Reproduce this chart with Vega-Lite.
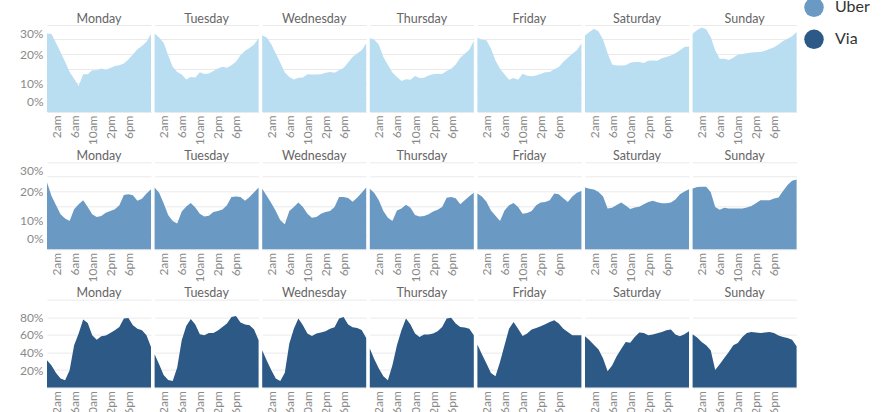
{
  "$schema": "https://vega.github.io/schema/vega-lite/v6.json",
  "padding": {"left": 19, "top": -35, "right": 0, "bottom": 0},
  "datasets": {
    "lyft": [
      {"d":"Monday","h":0,"v":27.1},{"d":"Monday","h":1,"v":26.9},{"d":"Monday","h":2,"v":23.8},{"d":"Monday","h":3,"v":20.6},{"d":"Monday","h":4,"v":17.3},{"d":"Monday","h":5,"v":13.8},{"d":"Monday","h":6,"v":11.5},{"d":"Monday","h":7,"v":9.0},{"d":"Monday","h":8,"v":13.0},{"d":"Monday","h":9,"v":13.0},{"d":"Monday","h":10,"v":14.4},{"d":"Monday","h":11,"v":14.4},{"d":"Monday","h":12,"v":15.0},{"d":"Monday","h":13,"v":14.6},{"d":"Monday","h":14,"v":15.2},{"d":"Monday","h":15,"v":15.9},{"d":"Monday","h":16,"v":16.1},{"d":"Monday","h":17,"v":16.7},{"d":"Monday","h":18,"v":18.1},{"d":"Monday","h":19,"v":19.8},{"d":"Monday","h":20,"v":21.6},{"d":"Monday","h":21,"v":22.8},{"d":"Monday","h":22,"v":24.2},{"d":"Monday","h":23,"v":26.9},
      {"d":"Tuesday","h":0,"v":27.1},{"d":"Tuesday","h":1,"v":25.7},{"d":"Tuesday","h":2,"v":23.9},{"d":"Tuesday","h":3,"v":19.6},{"d":"Tuesday","h":4,"v":15.6},{"d":"Tuesday","h":5,"v":13.8},{"d":"Tuesday","h":6,"v":12.9},{"d":"Tuesday","h":7,"v":11.2},{"d":"Tuesday","h":8,"v":12.1},{"d":"Tuesday","h":9,"v":11.9},{"d":"Tuesday","h":10,"v":13.7},{"d":"Tuesday","h":11,"v":13.1},{"d":"Tuesday","h":12,"v":13.3},{"d":"Tuesday","h":13,"v":14.1},{"d":"Tuesday","h":14,"v":15.0},{"d":"Tuesday","h":15,"v":15.6},{"d":"Tuesday","h":16,"v":15.3},{"d":"Tuesday","h":17,"v":16.1},{"d":"Tuesday","h":18,"v":17.3},{"d":"Tuesday","h":19,"v":19.6},{"d":"Tuesday","h":20,"v":21.1},{"d":"Tuesday","h":21,"v":22.1},{"d":"Tuesday","h":22,"v":23.3},{"d":"Tuesday","h":23,"v":25.4},
      {"d":"Wednesday","h":0,"v":26.5},{"d":"Wednesday","h":1,"v":25.7},{"d":"Wednesday","h":2,"v":23.4},{"d":"Wednesday","h":3,"v":20.2},{"d":"Wednesday","h":4,"v":17.0},{"d":"Wednesday","h":5,"v":13.6},{"d":"Wednesday","h":6,"v":12.1},{"d":"Wednesday","h":7,"v":11.2},{"d":"Wednesday","h":8,"v":11.8},{"d":"Wednesday","h":9,"v":11.9},{"d":"Wednesday","h":10,"v":13.0},{"d":"Wednesday","h":11,"v":12.9},{"d":"Wednesday","h":12,"v":12.9},{"d":"Wednesday","h":13,"v":13.0},{"d":"Wednesday","h":14,"v":13.5},{"d":"Wednesday","h":15,"v":13.8},{"d":"Wednesday","h":16,"v":13.5},{"d":"Wednesday","h":17,"v":14.4},{"d":"Wednesday","h":18,"v":15.2},{"d":"Wednesday","h":19,"v":17.1},{"d":"Wednesday","h":20,"v":19.0},{"d":"Wednesday","h":21,"v":20.2},{"d":"Wednesday","h":22,"v":21.3},{"d":"Wednesday","h":23,"v":23.6},
      {"d":"Thursday","h":0,"v":25.5},{"d":"Thursday","h":1,"v":24.9},{"d":"Thursday","h":2,"v":23.2},{"d":"Thursday","h":3,"v":19.0},{"d":"Thursday","h":4,"v":16.2},{"d":"Thursday","h":5,"v":13.6},{"d":"Thursday","h":6,"v":12.1},{"d":"Thursday","h":7,"v":10.7},{"d":"Thursday","h":8,"v":11.3},{"d":"Thursday","h":9,"v":11.1},{"d":"Thursday","h":10,"v":12.4},{"d":"Thursday","h":11,"v":11.7},{"d":"Thursday","h":12,"v":11.8},{"d":"Thursday","h":13,"v":12.6},{"d":"Thursday","h":14,"v":13.0},{"d":"Thursday","h":15,"v":13.2},{"d":"Thursday","h":16,"v":13.1},{"d":"Thursday","h":17,"v":14.1},{"d":"Thursday","h":18,"v":14.9},{"d":"Thursday","h":19,"v":16.4},{"d":"Thursday","h":20,"v":18.7},{"d":"Thursday","h":21,"v":20.1},{"d":"Thursday","h":22,"v":21.5},{"d":"Thursday","h":23,"v":24.5},
      {"d":"Friday","h":0,"v":25.6},{"d":"Friday","h":1,"v":24.9},{"d":"Friday","h":2,"v":24.7},{"d":"Friday","h":3,"v":21.8},{"d":"Friday","h":4,"v":17.8},{"d":"Friday","h":5,"v":14.9},{"d":"Friday","h":6,"v":13.0},{"d":"Friday","h":7,"v":11.1},{"d":"Friday","h":8,"v":11.7},{"d":"Friday","h":9,"v":11.1},{"d":"Friday","h":10,"v":13.2},{"d":"Friday","h":11,"v":12.5},{"d":"Friday","h":12,"v":12.3},{"d":"Friday","h":13,"v":12.6},{"d":"Friday","h":14,"v":13.1},{"d":"Friday","h":15,"v":13.7},{"d":"Friday","h":16,"v":13.8},{"d":"Friday","h":17,"v":14.7},{"d":"Friday","h":18,"v":15.5},{"d":"Friday","h":19,"v":17.2},{"d":"Friday","h":20,"v":18.7},{"d":"Friday","h":21,"v":20.1},{"d":"Friday","h":22,"v":21.3},{"d":"Friday","h":23,"v":23.6},
      {"d":"Saturday","h":0,"v":26.4},{"d":"Saturday","h":1,"v":27.6},{"d":"Saturday","h":2,"v":28.7},{"d":"Saturday","h":3,"v":27.8},{"d":"Saturday","h":4,"v":24.9},{"d":"Saturday","h":5,"v":20.3},{"d":"Saturday","h":6,"v":16.4},{"d":"Saturday","h":7,"v":16.0},{"d":"Saturday","h":8,"v":16.0},{"d":"Saturday","h":9,"v":16.1},{"d":"Saturday","h":10,"v":17.0},{"d":"Saturday","h":11,"v":17.2},{"d":"Saturday","h":12,"v":17.2},{"d":"Saturday","h":13,"v":16.9},{"d":"Saturday","h":14,"v":17.7},{"d":"Saturday","h":15,"v":17.8},{"d":"Saturday","h":16,"v":17.7},{"d":"Saturday","h":17,"v":18.5},{"d":"Saturday","h":18,"v":19.0},{"d":"Saturday","h":19,"v":19.5},{"d":"Saturday","h":20,"v":20.3},{"d":"Saturday","h":21,"v":21.3},{"d":"Saturday","h":22,"v":22.4},{"d":"Saturday","h":23,"v":22.6},
      {"d":"Sunday","h":0,"v":27.0},{"d":"Sunday","h":1,"v":28.3},{"d":"Sunday","h":2,"v":29.1},{"d":"Sunday","h":3,"v":28.5},{"d":"Sunday","h":4,"v":25.9},{"d":"Sunday","h":5,"v":21.3},{"d":"Sunday","h":6,"v":18.4},{"d":"Sunday","h":7,"v":18.4},{"d":"Sunday","h":8,"v":17.9},{"d":"Sunday","h":9,"v":18.7},{"d":"Sunday","h":10,"v":19.7},{"d":"Sunday","h":11,"v":20.0},{"d":"Sunday","h":12,"v":20.3},{"d":"Sunday","h":13,"v":20.5},{"d":"Sunday","h":14,"v":20.6},{"d":"Sunday","h":15,"v":20.7},{"d":"Sunday","h":16,"v":21.1},{"d":"Sunday","h":17,"v":21.7},{"d":"Sunday","h":18,"v":22.3},{"d":"Sunday","h":19,"v":23.3},{"d":"Sunday","h":20,"v":24.5},{"d":"Sunday","h":21,"v":25.3},{"d":"Sunday","h":22,"v":26.1},{"d":"Sunday","h":23,"v":27.6}
    ],
    "uber": [
      {"d":"Monday","h":0,"v":23.0},{"d":"Monday","h":1,"v":18.4},{"d":"Monday","h":2,"v":15.2},{"d":"Monday","h":3,"v":12.1},{"d":"Monday","h":4,"v":10.6},{"d":"Monday","h":5,"v":9.8},{"d":"Monday","h":6,"v":13.8},{"d":"Monday","h":7,"v":15.5},{"d":"Monday","h":8,"v":16.9},{"d":"Monday","h":9,"v":14.6},{"d":"Monday","h":10,"v":12.1},{"d":"Monday","h":11,"v":11.1},{"d":"Monday","h":12,"v":11.5},{"d":"Monday","h":13,"v":12.6},{"d":"Monday","h":14,"v":13.2},{"d":"Monday","h":15,"v":13.8},{"d":"Monday","h":16,"v":15.2},{"d":"Monday","h":17,"v":18.7},{"d":"Monday","h":18,"v":19.0},{"d":"Monday","h":19,"v":18.6},{"d":"Monday","h":20,"v":16.7},{"d":"Monday","h":21,"v":17.4},{"d":"Monday","h":22,"v":19.2},{"d":"Monday","h":23,"v":20.7},
      {"d":"Tuesday","h":0,"v":21.3},{"d":"Tuesday","h":1,"v":19.5},{"d":"Tuesday","h":2,"v":15.9},{"d":"Tuesday","h":3,"v":11.8},{"d":"Tuesday","h":4,"v":9.8},{"d":"Tuesday","h":5,"v":8.9},{"d":"Tuesday","h":6,"v":13.0},{"d":"Tuesday","h":7,"v":14.8},{"d":"Tuesday","h":8,"v":16.0},{"d":"Tuesday","h":9,"v":14.4},{"d":"Tuesday","h":10,"v":12.3},{"d":"Tuesday","h":11,"v":11.3},{"d":"Tuesday","h":12,"v":11.6},{"d":"Tuesday","h":13,"v":12.9},{"d":"Tuesday","h":14,"v":13.2},{"d":"Tuesday","h":15,"v":13.7},{"d":"Tuesday","h":16,"v":15.2},{"d":"Tuesday","h":17,"v":18.0},{"d":"Tuesday","h":18,"v":18.2},{"d":"Tuesday","h":19,"v":18.0},{"d":"Tuesday","h":20,"v":16.7},{"d":"Tuesday","h":21,"v":18.0},{"d":"Tuesday","h":22,"v":19.7},{"d":"Tuesday","h":23,"v":21.3},
      {"d":"Wednesday","h":0,"v":20.9},{"d":"Wednesday","h":1,"v":18.5},{"d":"Wednesday","h":2,"v":16.0},{"d":"Wednesday","h":3,"v":13.2},{"d":"Wednesday","h":4,"v":10.0},{"d":"Wednesday","h":5,"v":8.6},{"d":"Wednesday","h":6,"v":13.2},{"d":"Wednesday","h":7,"v":14.6},{"d":"Wednesday","h":8,"v":16.1},{"d":"Wednesday","h":9,"v":14.6},{"d":"Wednesday","h":10,"v":12.3},{"d":"Wednesday","h":11,"v":10.9},{"d":"Wednesday","h":12,"v":11.1},{"d":"Wednesday","h":13,"v":12.3},{"d":"Wednesday","h":14,"v":12.9},{"d":"Wednesday","h":15,"v":13.2},{"d":"Wednesday","h":16,"v":14.6},{"d":"Wednesday","h":17,"v":18.0},{"d":"Wednesday","h":18,"v":18.0},{"d":"Wednesday","h":19,"v":17.7},{"d":"Wednesday","h":20,"v":16.4},{"d":"Wednesday","h":21,"v":17.8},{"d":"Wednesday","h":22,"v":19.5},{"d":"Wednesday","h":23,"v":21.3},
      {"d":"Thursday","h":0,"v":20.9},{"d":"Thursday","h":1,"v":19.4},{"d":"Thursday","h":2,"v":16.9},{"d":"Thursday","h":3,"v":13.2},{"d":"Thursday","h":4,"v":10.9},{"d":"Thursday","h":5,"v":9.8},{"d":"Thursday","h":6,"v":13.4},{"d":"Thursday","h":7,"v":14.1},{"d":"Thursday","h":8,"v":15.4},{"d":"Thursday","h":9,"v":14.3},{"d":"Thursday","h":10,"v":11.8},{"d":"Thursday","h":11,"v":11.3},{"d":"Thursday","h":12,"v":11.5},{"d":"Thursday","h":13,"v":12.1},{"d":"Thursday","h":14,"v":13.0},{"d":"Thursday","h":15,"v":13.6},{"d":"Thursday","h":16,"v":14.6},{"d":"Thursday","h":17,"v":17.8},{"d":"Thursday","h":18,"v":18.0},{"d":"Thursday","h":19,"v":17.6},{"d":"Thursday","h":20,"v":15.5},{"d":"Thursday","h":21,"v":16.9},{"d":"Thursday","h":22,"v":18.3},{"d":"Thursday","h":23,"v":19.5},
      {"d":"Friday","h":0,"v":19.2},{"d":"Friday","h":1,"v":18.2},{"d":"Friday","h":2,"v":16.4},{"d":"Friday","h":3,"v":13.4},{"d":"Friday","h":4,"v":11.6},{"d":"Friday","h":5,"v":9.8},{"d":"Friday","h":6,"v":13.4},{"d":"Friday","h":7,"v":15.2},{"d":"Friday","h":8,"v":16.0},{"d":"Friday","h":9,"v":14.6},{"d":"Friday","h":10,"v":12.3},{"d":"Friday","h":11,"v":12.5},{"d":"Friday","h":12,"v":13.2},{"d":"Friday","h":13,"v":15.2},{"d":"Friday","h":14,"v":16.1},{"d":"Friday","h":15,"v":16.3},{"d":"Friday","h":16,"v":16.9},{"d":"Friday","h":17,"v":19.2},{"d":"Friday","h":18,"v":19.0},{"d":"Friday","h":19,"v":17.6},{"d":"Friday","h":20,"v":16.3},{"d":"Friday","h":21,"v":18.2},{"d":"Friday","h":22,"v":19.5},{"d":"Friday","h":23,"v":20.1},
      {"d":"Saturday","h":0,"v":21.3},{"d":"Saturday","h":1,"v":20.9},{"d":"Saturday","h":2,"v":20.6},{"d":"Saturday","h":3,"v":19.8},{"d":"Saturday","h":4,"v":18.2},{"d":"Saturday","h":5,"v":14.1},{"d":"Saturday","h":6,"v":14.3},{"d":"Saturday","h":7,"v":15.3},{"d":"Saturday","h":8,"v":16.1},{"d":"Saturday","h":9,"v":15.1},{"d":"Saturday","h":10,"v":13.9},{"d":"Saturday","h":11,"v":14.4},{"d":"Saturday","h":12,"v":14.7},{"d":"Saturday","h":13,"v":15.5},{"d":"Saturday","h":14,"v":16.3},{"d":"Saturday","h":15,"v":16.7},{"d":"Saturday","h":16,"v":16.2},{"d":"Saturday","h":17,"v":15.9},{"d":"Saturday","h":18,"v":15.9},{"d":"Saturday","h":19,"v":16.1},{"d":"Saturday","h":20,"v":17.2},{"d":"Saturday","h":21,"v":19.0},{"d":"Saturday","h":22,"v":19.9},{"d":"Saturday","h":23,"v":20.7},
      {"d":"Sunday","h":0,"v":21.0},{"d":"Sunday","h":1,"v":21.5},{"d":"Sunday","h":2,"v":21.6},{"d":"Sunday","h":3,"v":21.6},{"d":"Sunday","h":4,"v":19.8},{"d":"Sunday","h":5,"v":14.6},{"d":"Sunday","h":6,"v":13.6},{"d":"Sunday","h":7,"v":14.3},{"d":"Sunday","h":8,"v":14.1},{"d":"Sunday","h":9,"v":14.1},{"d":"Sunday","h":10,"v":14.1},{"d":"Sunday","h":11,"v":14.1},{"d":"Sunday","h":12,"v":14.4},{"d":"Sunday","h":13,"v":14.9},{"d":"Sunday","h":14,"v":15.9},{"d":"Sunday","h":15,"v":16.9},{"d":"Sunday","h":16,"v":16.9},{"d":"Sunday","h":17,"v":16.9},{"d":"Sunday","h":18,"v":17.5},{"d":"Sunday","h":19,"v":17.9},{"d":"Sunday","h":20,"v":20.1},{"d":"Sunday","h":21,"v":22.2},{"d":"Sunday","h":22,"v":23.6},{"d":"Sunday","h":23,"v":24.1}
    ],
    "via": [
      {"d":"Monday","h":0,"v":31.1},{"d":"Monday","h":1,"v":25.0},{"d":"Monday","h":2,"v":16.7},{"d":"Monday","h":3,"v":10.2},{"d":"Monday","h":4,"v":8.3},{"d":"Monday","h":5,"v":19.7},{"d":"Monday","h":6,"v":48.1},{"d":"Monday","h":7,"v":61.4},{"d":"Monday","h":8,"v":77.3},{"d":"Monday","h":9,"v":73.5},{"d":"Monday","h":10,"v":59.5},{"d":"Monday","h":11,"v":54.5},{"d":"Monday","h":12,"v":58.3},{"d":"Monday","h":13,"v":59.1},{"d":"Monday","h":14,"v":62.1},{"d":"Monday","h":15,"v":65.2},{"d":"Monday","h":16,"v":68.9},{"d":"Monday","h":17,"v":78.4},{"d":"Monday","h":18,"v":79.2},{"d":"Monday","h":19,"v":70.8},{"d":"Monday","h":20,"v":67.0},{"d":"Monday","h":21,"v":65.2},{"d":"Monday","h":22,"v":59.5},{"d":"Monday","h":23,"v":46.2},
      {"d":"Tuesday","h":0,"v":37.9},{"d":"Tuesday","h":1,"v":26.5},{"d":"Tuesday","h":2,"v":14.4},{"d":"Tuesday","h":3,"v":8.7},{"d":"Tuesday","h":4,"v":7.6},{"d":"Tuesday","h":5,"v":22.7},{"d":"Tuesday","h":6,"v":53.8},{"d":"Tuesday","h":7,"v":70.1},{"d":"Tuesday","h":8,"v":78.0},{"d":"Tuesday","h":9,"v":71.6},{"d":"Tuesday","h":10,"v":60.6},{"d":"Tuesday","h":11,"v":59.5},{"d":"Tuesday","h":12,"v":62.1},{"d":"Tuesday","h":13,"v":62.1},{"d":"Tuesday","h":14,"v":64.8},{"d":"Tuesday","h":15,"v":68.9},{"d":"Tuesday","h":16,"v":72.7},{"d":"Tuesday","h":17,"v":80.3},{"d":"Tuesday","h":18,"v":81.5},{"d":"Tuesday","h":19,"v":73.9},{"d":"Tuesday","h":20,"v":71.6},{"d":"Tuesday","h":21,"v":70.8},{"d":"Tuesday","h":22,"v":65.9},{"d":"Tuesday","h":23,"v":53.8},
      {"d":"Wednesday","h":0,"v":42.4},{"d":"Wednesday","h":1,"v":30.7},{"d":"Wednesday","h":2,"v":20.1},{"d":"Wednesday","h":3,"v":10.2},{"d":"Wednesday","h":4,"v":7.6},{"d":"Wednesday","h":5,"v":17.0},{"d":"Wednesday","h":6,"v":50.0},{"d":"Wednesday","h":7,"v":67.0},{"d":"Wednesday","h":8,"v":78.4},{"d":"Wednesday","h":9,"v":70.8},{"d":"Wednesday","h":10,"v":61.4},{"d":"Wednesday","h":11,"v":58.7},{"d":"Wednesday","h":12,"v":61.4},{"d":"Wednesday","h":13,"v":62.5},{"d":"Wednesday","h":14,"v":64.0},{"d":"Wednesday","h":15,"v":67.0},{"d":"Wednesday","h":16,"v":68.6},{"d":"Wednesday","h":17,"v":78.4},{"d":"Wednesday","h":18,"v":80.3},{"d":"Wednesday","h":19,"v":71.6},{"d":"Wednesday","h":20,"v":68.6},{"d":"Wednesday","h":21,"v":67.8},{"d":"Wednesday","h":22,"v":65.5},{"d":"Wednesday","h":23,"v":56.4},
      {"d":"Thursday","h":0,"v":44.3},{"d":"Thursday","h":1,"v":32.2},{"d":"Thursday","h":2,"v":21.6},{"d":"Thursday","h":3,"v":12.9},{"d":"Thursday","h":4,"v":8.3},{"d":"Thursday","h":5,"v":25.4},{"d":"Thursday","h":6,"v":48.1},{"d":"Thursday","h":7,"v":65.2},{"d":"Thursday","h":8,"v":78.4},{"d":"Thursday","h":9,"v":71.6},{"d":"Thursday","h":10,"v":61.4},{"d":"Thursday","h":11,"v":57.6},{"d":"Thursday","h":12,"v":60.2},{"d":"Thursday","h":13,"v":60.2},{"d":"Thursday","h":14,"v":61.4},{"d":"Thursday","h":15,"v":64.0},{"d":"Thursday","h":16,"v":68.9},{"d":"Thursday","h":17,"v":78.4},{"d":"Thursday","h":18,"v":79.5},{"d":"Thursday","h":19,"v":72.7},{"d":"Thursday","h":20,"v":68.9},{"d":"Thursday","h":21,"v":68.2},{"d":"Thursday","h":22,"v":67.0},{"d":"Thursday","h":23,"v":59.5},
      {"d":"Friday","h":0,"v":48.9},{"d":"Friday","h":1,"v":37.9},{"d":"Friday","h":2,"v":27.3},{"d":"Friday","h":3,"v":16.7},{"d":"Friday","h":4,"v":12.9},{"d":"Friday","h":5,"v":29.2},{"d":"Friday","h":6,"v":48.1},{"d":"Friday","h":7,"v":67.0},{"d":"Friday","h":8,"v":74.6},{"d":"Friday","h":9,"v":67.0},{"d":"Friday","h":10,"v":58.7},{"d":"Friday","h":11,"v":61.4},{"d":"Friday","h":12,"v":65.9},{"d":"Friday","h":13,"v":67.8},{"d":"Friday","h":14,"v":69.7},{"d":"Friday","h":15,"v":72.0},{"d":"Friday","h":16,"v":74.6},{"d":"Friday","h":17,"v":76.5},{"d":"Friday","h":18,"v":72.7},{"d":"Friday","h":19,"v":67.0},{"d":"Friday","h":20,"v":63.3},{"d":"Friday","h":21,"v":59.5},{"d":"Friday","h":22,"v":59.5},{"d":"Friday","h":23,"v":59.5},
      {"d":"Saturday","h":0,"v":58.3},{"d":"Saturday","h":1,"v":53.8},{"d":"Saturday","h":2,"v":48.5},{"d":"Saturday","h":3,"v":43.2},{"d":"Saturday","h":4,"v":33.0},{"d":"Saturday","h":5,"v":18.5},{"d":"Saturday","h":6,"v":25.0},{"d":"Saturday","h":7,"v":35.6},{"d":"Saturday","h":8,"v":43.9},{"d":"Saturday","h":9,"v":51.9},{"d":"Saturday","h":10,"v":51.1},{"d":"Saturday","h":11,"v":57.6},{"d":"Saturday","h":12,"v":62.5},{"d":"Saturday","h":13,"v":62.1},{"d":"Saturday","h":14,"v":59.5},{"d":"Saturday","h":15,"v":60.2},{"d":"Saturday","h":16,"v":61.7},{"d":"Saturday","h":17,"v":63.3},{"d":"Saturday","h":18,"v":65.2},{"d":"Saturday","h":19,"v":65.9},{"d":"Saturday","h":20,"v":60.2},{"d":"Saturday","h":21,"v":58.3},{"d":"Saturday","h":22,"v":60.6},{"d":"Saturday","h":23,"v":64.0},
      {"d":"Sunday","h":0,"v":60.6},{"d":"Sunday","h":1,"v":56.8},{"d":"Sunday","h":2,"v":51.9},{"d":"Sunday","h":3,"v":48.1},{"d":"Sunday","h":4,"v":42.4},{"d":"Sunday","h":5,"v":20.0},{"d":"Sunday","h":6,"v":26.5},{"d":"Sunday","h":7,"v":33.7},{"d":"Sunday","h":8,"v":40.5},{"d":"Sunday","h":9,"v":48.1},{"d":"Sunday","h":10,"v":50.8},{"d":"Sunday","h":11,"v":57.6},{"d":"Sunday","h":12,"v":62.1},{"d":"Sunday","h":13,"v":63.3},{"d":"Sunday","h":14,"v":62.5},{"d":"Sunday","h":15,"v":62.1},{"d":"Sunday","h":16,"v":62.5},{"d":"Sunday","h":17,"v":63.3},{"d":"Sunday","h":18,"v":62.1},{"d":"Sunday","h":19,"v":59.1},{"d":"Sunday","h":20,"v":57.6},{"d":"Sunday","h":21,"v":56.4},{"d":"Sunday","h":22,"v":54.5},{"d":"Sunday","h":23,"v":47.0}
    ]
  },
  "vconcat": [
    {
      "data": {"name": "lyft"},
      "facet": {"column": {"field": "d", "type": "nominal", "sort": ["Monday","Tuesday","Wednesday","Thursday","Friday","Saturday","Sunday"], "header": {"title": null}}},
      "spacing": 3.6,
      "spec": {
        "width": 104, "height": 87,
        "mark": {"type": "area", "opacity": 1},
        "encoding": {
          "x": {"field": "h", "type": "quantitative", "scale": {"domain": [0, 23], "nice": false, "zero": false}, "axis": {"values": [2,6,10,14,18], "labelExpr": "datum.value < 12 ? datum.value + 'am' : (datum.value - 12) + 'pm'"}},
          "y": {"field": "v", "type": "quantitative", "scale": {"domain": [0, 30], "nice": false}, "axis": {"values": [0,5,10,15,20,25,30], "labelExpr": "datum.value % 10 === 0 ? datum.value + '%' : ''", "labelFlush": true, "labelFlushOffset": -3.5}},
          "color": {"datum": "Lyft", "type": "nominal"}
        }
      }
    },
    {
      "data": {"name": "uber"},
      "facet": {"column": {"field": "d", "type": "nominal", "sort": ["Monday","Tuesday","Wednesday","Thursday","Friday","Saturday","Sunday"], "header": {"title": null}}},
      "spacing": 3.6,
      "spec": {
        "width": 104, "height": 87,
        "mark": {"type": "area", "opacity": 1},
        "encoding": {
          "x": {"field": "h", "type": "quantitative", "scale": {"domain": [0, 23], "nice": false, "zero": false}, "axis": {"values": [2,6,10,14,18], "labelExpr": "datum.value < 12 ? datum.value + 'am' : (datum.value - 12) + 'pm'"}},
          "y": {"field": "v", "type": "quantitative", "scale": {"domain": [0, 30], "nice": false}, "axis": {"values": [0,5,10,15,20,25,30], "labelExpr": "datum.value % 10 === 0 ? datum.value + '%' : ''", "labelFlush": true, "labelFlushOffset": -3.5}},
          "color": {"datum": "Uber", "type": "nominal"}
        }
      }
    },
    {
      "data": {"name": "via"},
      "facet": {"column": {"field": "d", "type": "nominal", "sort": ["Monday","Tuesday","Wednesday","Thursday","Friday","Saturday","Sunday"], "header": {"title": null}}},
      "spacing": 3.6,
      "spec": {
        "width": 104, "height": 88,
        "mark": {"type": "area", "opacity": 1},
        "encoding": {
          "x": {"field": "h", "type": "quantitative", "scale": {"domain": [0, 23], "nice": false, "zero": false}, "axis": {"values": [2,6,10,14,18], "labelExpr": "datum.value < 12 ? datum.value + 'am' : (datum.value - 12) + 'pm'"}},
          "y": {"field": "v", "type": "quantitative", "scale": {"domain": [0, 100], "nice": false}, "axis": {"values": [0,20,40,60,80,100], "labelExpr": "datum.value > 0 && datum.value < 100 ? datum.value + '%' : ''", "labelFlush": false}},
          "color": {"datum": "Via", "type": "nominal"}
        }
      }
    }
  ],
  "spacing": 4.3,
  "resolve": {"scale": {"y": "independent", "x": "independent"}},
  "config": {
    "font": "Lato",
    "view": {"stroke": null},
    "range": {"category": ["#b9ddf1", "#6a9ac4", "#2c5985"]},
    "axis": {"title": null, "ticks": false, "domain": false, "labelFontSize": 12, "labelColor": "#8a8a8a", "labelOverlap": false, "labelFont": "Lato"},
    "axisX": {"grid": false, "labelAngle": -90, "labelPadding": 3},
    "axisY": {"grid": true, "gridColor": "#eaeaea", "gridWidth": 1, "labelPadding": 4},
    "header": {"labelFontSize": 12.5, "labelColor": "#666666", "labelPadding": 0, "labelFont": "Lato"},
    "legend": {"orient": "none", "legendX": 757, "legendY": -59.7, "title": null, "symbolType": "circle", "symbolSize": 380, "symbolOpacity": 1, "symbolStrokeWidth": 0, "labelFontSize": 16, "labelColor": "#333333", "labelOffset": 11, "rowPadding": 12, "labelFont": "Lato"}
  }
}
